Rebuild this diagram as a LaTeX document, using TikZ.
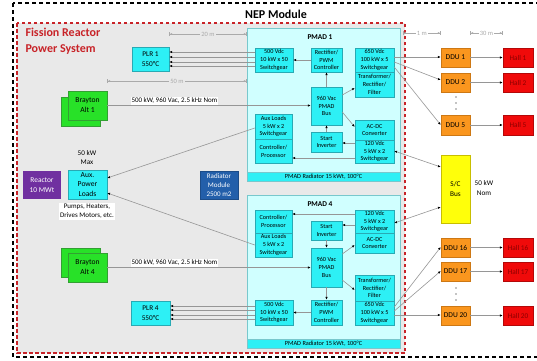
\documentclass[tikz,border=0pt]{standalone}
\usepackage{fontspec}
\setmainfont{Carlito}
\usetikzlibrary{arrows.meta}

\definecolor{bgpanel}{RGB}{233,233,233}
\definecolor{fissred}{RGB}{200,35,40}
\definecolor{pmadfill}{RGB}{208,255,255}
\definecolor{pmadline}{RGB}{120,200,205}
\definecolor{unitcyan}{RGB}{45,240,245}
\definecolor{unitline}{RGB}{40,170,180}
\definecolor{braygreen}{RGB}{40,225,40}
\definecolor{brayline}{RGB}{50,160,50}
\definecolor{dduorange}{RGB}{250,150,30}
\definecolor{dduline}{RGB}{205,120,20}
\definecolor{hallred}{RGB}{240,10,10}
\definecolor{halltext}{RGB}{140,0,0}
\definecolor{busyellow}{RGB}{255,255,10}
\definecolor{busline}{RGB}{200,190,0}
\definecolor{reactpurple}{RGB}{112,48,160}
\definecolor{radblue}{RGB}{35,95,170}
\definecolor{wiregray}{RGB}{150,150,150}
\definecolor{dimgray}{RGB}{170,170,170}

% box from corner (x1,y1) to corner (x2,y2): style, name, x1, y1, x2, y2, text
\newcommand\bx[7]{\node[#1, minimum width={(#5-#3)*1pt}, minimum height={(#6-#4)*1pt}] (#2) at ({(#3+#5)/2},{(#4+#6)/2}) {#7};}

\tikzset{
  nepframe/.style={draw=black, line width=1.6pt, dash pattern=on 4pt off 3pt},
  fissframe/.style={draw=fissred, fill=bgpanel, line width=1.2pt, dash pattern=on 3.5pt off 2.5pt},
  basebox/.style={inner sep=0pt, align=center, line width=0.5pt},
  pmadframe/.style={basebox, draw=pmadline, fill=pmadfill},
  band/.style={basebox, draw=pmadline, fill=unitcyan, font=\fontsize{6.3}{7.5}\selectfont},
  unit/.style={basebox, draw=unitline, fill=unitcyan, font=\fontsize{6.2}{7.8}\selectfont},
  plrbox/.style={basebox, draw=unitline, fill=unitcyan, font=\fontsize{7.3}{10}\selectfont},
  braybox/.style={basebox, draw=brayline, fill=braygreen, font=\fontsize{7.6}{10}\selectfont},
  auxbox/.style={basebox, draw=unitline, fill=unitcyan, font=\fontsize{7.6}{9.6}\selectfont},
  reactbox/.style={basebox, fill=reactpurple, text=white, font=\fontsize{7.4}{9.6}\selectfont},
  radbox/.style={basebox, draw=radblue!80!black, fill=radblue, text=white, font=\fontsize{7}{9}\selectfont},
  ddubox/.style={basebox, draw=dduline, fill=dduorange, font=\fontsize{7.5}{9}\selectfont},
  hallbox/.style={basebox, draw=hallred!75!black, fill=hallred, text=halltext, font=\fontsize{7.3}{9}\selectfont},
  busbox/.style={basebox, draw=busline, fill=busyellow, font=\fontsize{7.3}{9.6}\selectfont},
  note/.style={inner sep=0pt, align=center, font=\fontsize{7.2}{9.4}\selectfont},
  ratelabel/.style={fill=white, inner sep=1pt, font=\fontsize{7}{8}\selectfont},
  wire/.style={draw=wiregray, line width=0.6pt},
  arr/.style={wire, -{Latex[length=2.8pt,width=2.4pt,color=black]}},
  twoway/.style={wire, {Latex[length=2.8pt,width=2.4pt,color=black]}-{Latex[length=2.8pt,width=2.4pt,color=black]}},
  dimline/.style={draw=dimgray, line width=0.5pt,
    {Bar[width=4pt]Latex[length=2.4pt,width=2pt]}-{Latex[length=2.4pt,width=2pt]Bar[width=4pt]}},
  dimtext/.style={inner sep=1.2pt, text=dimgray, font=\fontsize{6.5}{7}\selectfont},
  dotmark/.style={circle, fill=black, inner sep=0pt, minimum size=1.3pt},
}

\begin{document}
\begin{tikzpicture}[x=1pt, y=-1pt]
\useasboundingbox (0,0) rectangle (537,360);
\fill[white] (0,0) rectangle (537,360);

% NEP module frame and title
\draw[nepframe] (13,3) rectangle (570,357);
\node[font=\bfseries\fontsize{12}{14}\selectfont] (neptitle) at (276,14) {NEP Module};

% fission reactor power system panel
\draw[fissframe] (17,23) rectangle (405,353);
\node[anchor=west, align=left, text=fissred, font=\bfseries\fontsize{12}{16}\selectfont]
  (fisstitle) at (22,41) {Fission Reactor\\Power System};

% ---------------- PMAD 1 ----------------
\bx{pmadframe}{pmad1}{247}{28}{400}{181}{}
\bx{band}{band1}{247}{172}{400}{181}{PMAD Radiator 15 kWt, 100°C}
\node[font=\bfseries\fontsize{7.4}{9}\selectfont] (pmad1title) at (320,37) {PMAD 1};
\bx{unit}{sw500a}{255}{48}{293}{72}{500 Vdc\\10 kW x 50\\Switchgear}
\bx{unit}{rect1}{311}{48}{342}{72}{Rectifier/\\PWM\\Controller}
\bx{unit}{sw650a}{355}{48}{394}{72}{650 Vdc\\100 kW x 5\\Switchgear}
\bx{unit}{trf1}{355}{72}{394}{97}{Transformer/\\Rectifier/\\Filter}
\bx{unit}{bus1}{311}{87}{342}{125}{960 Vac\\PMAD\\Bus}
\bx{unit}{aux1}{255}{114}{292}{139}{Aux Loads\\5 kW x 2\\Switchgear}
\bx{unit}{ctl1}{255}{139}{292}{163}{Controller/\\Processor}
\bx{unit}{inv1}{311}{132}{342}{152}{Start\\Inverter}
\bx{unit}{acdc1}{355}{120}{394}{140}{AC-DC\\Converter}
\bx{unit}{sw120a}{355}{140}{394}{163}{120 Vdc\\5 kW x 2\\Switchgear}

% ---------------- PMAD 4 ----------------
\bx{pmadframe}{pmad4}{247}{195}{400}{348}{}
\bx{band}{band4}{247}{339}{400}{348}{PMAD Radiator 15 kWt, 100°C}
\node[font=\bfseries\fontsize{7.4}{9}\selectfont] (pmad4title) at (320,204) {PMAD 4};
\bx{unit}{ctl4}{255}{210}{292}{233}{Controller/\\Processor}
\bx{unit}{aux4}{255}{233}{292}{257}{Aux Loads\\5 kW x 2\\Switchgear}
\bx{unit}{inv4}{311}{221}{342}{240}{Start\\Inverter}
\bx{unit}{sw120d}{355}{210}{394}{233}{120 Vdc\\5 kW x 2\\Switchgear}
\bx{unit}{acdc4}{355}{233}{394}{253}{AC-DC\\Converter}
\bx{unit}{bus4}{311}{248}{342}{287}{960 Vac\\PMAD\\Bus}
\bx{unit}{trf4}{355}{275}{394}{301}{Transformer/\\Rectifier/\\Filter}
\bx{unit}{sw650d}{355}{301}{394}{325}{650 Vdc\\100 kW x 5\\Switchgear}
\bx{unit}{rect4}{311}{300}{342}{325}{Rectifier/\\PWM\\Controller}
\bx{unit}{sw500d}{255}{300}{293}{325}{500 Vdc\\10 kW x 50\\Switchgear}

% ---------------- reactor side ----------------
\bx{plrbox}{plr1}{132}{47}{169}{71}{PLR 1\\550°C}
\bx{braybox}{bray1back}{61}{97}{100}{126}{}
\bx{braybox}{bray1}{68}{91}{107}{120}{Brayton\\Alt 1}
\bx{reactbox}{reactor}{23}{171}{61}{199}{Reactor\\10 MWt}
\bx{auxbox}{auxp}{68}{170}{107}{199}{Aux.\\Power\\Loads}
\node[note] (auxmax) at (87,157.5) {50 kW\\Max};
\node[note, fill=white, inner sep=1.5pt, font=\fontsize{7}{9}\selectfont] (auxlist) at (87,211.5) {Pumps, Heaters,\\Drives Motors, etc.};
\bx{radbox}{radmod}{200}{171}{238}{199}{Radiator\\Module\\2500 m2}
\bx{braybox}{bray4back}{61}{248}{100}{277}{}
\bx{braybox}{bray4}{68}{253}{107}{282}{Brayton\\Alt 4}
\bx{plrbox}{plr4}{131}{301}{170}{325}{PLR 4\\550°C}

% ---------------- distribution side ----------------
\bx{ddubox}{ddu1}{441}{48}{470}{67}{DDU 1}
\bx{ddubox}{ddu2}{441}{73}{470}{92}{DDU 2}
\bx{ddubox}{ddu5}{441}{115}{470}{135}{DDU 5}
\bx{hallbox}{hall1}{503}{48}{533}{67}{Hall 1}
\bx{hallbox}{hall2}{503}{73}{533}{92}{Hall 2}
\bx{hallbox}{hall5}{503}{115}{533}{135}{Hall 5}
\bx{busbox}{scbus}{441}{155}{470}{223}{S/C\\Bus}
\node[note] (scnom) at (484,188) {50 kW\\Nom};
\bx{ddubox}{ddu16}{441}{238}{470}{257}{DDU 16}
\bx{ddubox}{ddu17}{441}{262}{470}{281}{DDU 17}
\bx{ddubox}{ddu20}{441}{306}{470}{325}{DDU 20}
\bx{hallbox}{hall16}{503}{238}{533}{257}{Hall 16}
\bx{hallbox}{hall17}{503}{262}{533}{281}{Hall 17}
\bx{hallbox}{hall20}{503}{306}{533}{325}{Hall 20}
\node[dotmark] (dotA1) at (456,97) {};
\node[dotmark] (dotA2) at (456,103) {};
\node[dotmark] (dotA3) at (456,109) {};
\node[dotmark] (dotB1) at (456,288) {};
\node[dotmark] (dotB2) at (456,294) {};
\node[dotmark] (dotB3) at (456,300) {};

% ---------------- dimension lines ----------------
\draw[dimline] (plr1.east |- 0,34) -- (pmad1.west |- 0,34)
  node[midway, dimtext, fill=bgpanel] (dim20) {20 m};
\draw[dimline] (bray1.east |- 0,81) -- (pmad1.west |- 0,81)
  node[midway, dimtext, fill=bgpanel] (dim50) {50 m};
\draw[dimline] (403,33) -- (ddu1.west |- 0,33)
  node[midway, dimtext, fill=white] (dim1) {1 m};
\draw[dimline] (ddu1.east |- 0,33) -- (hall1.west |- 0,33)
  node[midway, dimtext, fill=white] (dim30) {30 m};

% ---------------- PMAD 1 connections ----------------
\foreach \yy in {52,57,62,66} \draw[arr] (sw500a.west |- 0,\yy) -- (plr1.east |- 0,\yy);
\draw[arr] (rect1.west) -- (sw500a.east |- rect1.west);
\draw[arr] (bus1.north) -- (rect1.south);
\draw[arr] (bus1.east |- 0,95) -- (trf1.west |- 0,88);
\draw[arr] (bus1.east |- 0,112) -- (acdc1.west |- 0,127);
\draw[arr] (inv1.north) -- (bus1.south);
\draw[arr] (sw120a.west |- 0,143) -- (inv1.east |- 0,143);
\draw[arr] (sw120a.west |- 0,158) -- (ctl1.east |- 0,158);
\draw[arr] (bray1.east) -- (bus1.west |- bray1.east)
  node[pos=0.33, above=0.5pt, ratelabel] (rate1) {500 kW, 960 Vac, 2.5 kHz Nom};
\draw[arr] (aux1.west |- 0,128) -- (auxp.east |- 0,178);

% ---------------- PMAD 4 connections ----------------
\foreach \yy in {306,310,315,319} \draw[arr] (sw500d.west |- 0,\yy) -- (plr4.east |- 0,\yy);
\draw[arr] (rect4.west) -- (sw500d.east |- rect4.west);
\draw[arr] (bus4.south) -- (rect4.north);
\draw[arr] (bus4.east |- 0,280) -- (trf4.west |- 0,290);
\draw[arr] (bus4.east |- 0,254) -- (acdc4.west |- 0,245);
\draw[arr] (inv4.south) -- (bus4.north);
\draw[arr] (sw120d.west |- 0,225) -- (inv4.east |- 0,225);
\draw[arr] (sw120d.west |- 0,214) -- (ctl4.east |- 0,214);
\draw[arr] (bray4.east) -- (bus4.west |- bray4.east)
  node[pos=0.33, above=0.5pt, ratelabel] (rate4) {500 kW, 960 Vac, 2.5 kHz Nom};
\draw[arr] (aux4.west |- 0,245) -- (auxp.east |- 0,193);

% ---------------- distribution feeds ----------------
\draw[arr] (sw650a.east |- 0,57) -- (ddu1.west |- 0,57);
\draw[arr] (sw650a.east |- 0,62) -- (ddu2.west |- 0,80);
\draw[arr] (sw650a.east |- 0,67) -- (ddu5.west |- 0,125);
\draw[twoway] (sw120a.east |- 0,151) -- (scbus.west |- 0,167);
\draw[twoway] (sw120d.east |- 0,223) -- (scbus.west |- 0,207);
\draw[arr] (sw650d.east |- 0,307) -- (ddu16.west |- 0,247);
\draw[arr] (sw650d.east |- 0,311) -- (ddu17.west |- 0,271);
\draw[arr] (sw650d.east |- 0,315) -- (ddu20.west |- 0,315);
\foreach \a/\b in {ddu1/hall1, ddu2/hall2, ddu5/hall5, ddu16/hall16, ddu17/hall17, ddu20/hall20}
  \draw[arr] (\a.east) -- (\b.west);
\end{tikzpicture}
\end{document}
